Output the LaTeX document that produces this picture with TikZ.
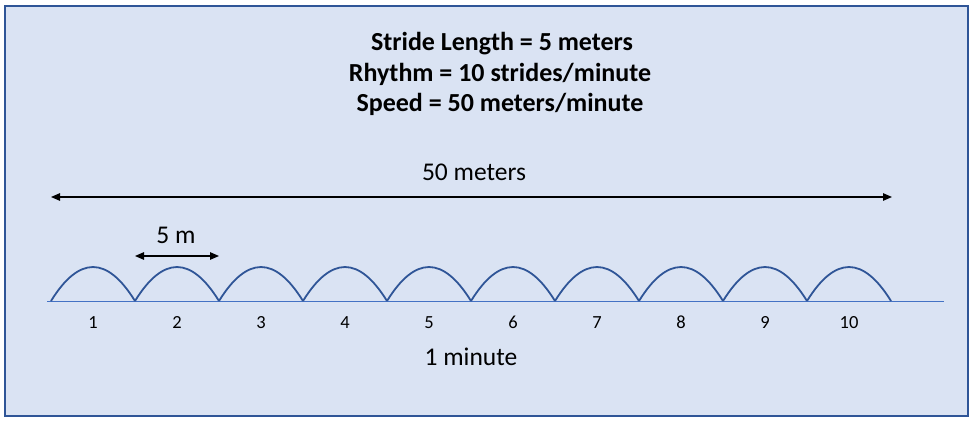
\documentclass[tikz,border=0pt]{standalone}
\usepackage{fontspec}
\setmainfont{Carlito}
\usepackage{xcolor}
\usetikzlibrary{positioning, arrows.meta}
\definecolor{panelfill}{HTML}{DAE3F3}
\definecolor{paneldraw}{HTML}{2F5597}
\definecolor{groundblue}{HTML}{4472C4}
\definecolor{stridedark}{HTML}{2F5597}

\tikzset{
  headline/.style={font=\bfseries\fontsize{26}{30}\selectfont, anchor=base, inner sep=0pt},
  measure text/.style={font=\fontsize{25.5}{30}\selectfont, anchor=base, inner sep=0pt},
  count text/.style={font=\fontsize{18.5}{22}\selectfont, anchor=base, inner sep=0pt},
  measure/.style={{Triangle[length=9pt,width=7.5pt]}-{Triangle[length=9pt,width=7.5pt]}, line width=1.2pt, black},
  stride/.style={stridedark, line width=1.8pt},
}

\begin{document}
\begin{tikzpicture}[x=1pt, y=-1pt]
  \useasboundingbox (0,0) rectangle (974,422);
  \draw[fill=panelfill, draw=paneldraw, line width=2pt] (5,6) rectangle (968,416);

  % summary lines
  \node[headline] (stride len) at (502,51) {Stride Length = 5 meters};
  \node[headline] (rhythm) at (500,81.5) {Rhythm = 10 strides/minute};
  \node[headline] (speed) at (500,112) {Speed = 50 meters/minute};

  % total distance
  \node[measure text] (total) at (474,181) {50 meters};
  \coordinate (total west) at (51,197);
  \coordinate (total east) at (892,197);
  \draw[measure] (total west) -- (total east);

  % one stride
  \node[measure text] (one) at (176,243) {5 m};
  \coordinate (one west) at (135,256);
  \coordinate (one east) at (219,256);
  \draw[measure] (one west) -- (one east);

  % ground and strides
  \coordinate (ground west) at (47,301);
  \coordinate (ground east) at (944,301);
  \draw[groundblue, line width=1pt] (ground west) -- (ground east);
  \foreach \i [evaluate=\i as \x using {51+84*(\i-1)}] in {1,...,10}{
    \draw[stride] (\x,301) .. controls +(28,-45.3) and +(-28,-45.3) .. (\x+84,301);
    \node[count text] (n\i) at (\x+42,328) {\i};
  }

  \node[measure text] (time) at (471,365) {1 minute};
\end{tikzpicture}
\end{document}
